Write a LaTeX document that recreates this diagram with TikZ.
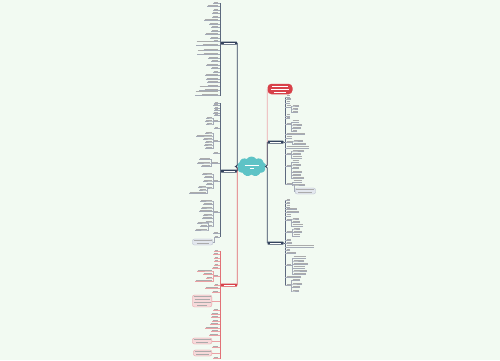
\documentclass[tikz,border=0pt]{standalone}
\usetikzlibrary{shapes.symbols}
\definecolor{bgc}{HTML}{F2FAF2}
\definecolor{navyc}{HTML}{34435E}
\definecolor{redc}{HTML}{D8414A}
\definecolor{txtc}{HTML}{ABABAB}
\definecolor{cloudc}{HTML}{5EC3C6}
\definecolor{gnotec}{HTML}{E3E7EE}
\definecolor{gnoteln}{HTML}{B5BDCB}
\definecolor{pnotec}{HTML}{F7D9DA}
\definecolor{pnoteln}{HTML}{E3979C}
\tikzset{
  lleaf/.style={inner sep=0.3pt, anchor=south east, align=right, text=txtc, font=\fontsize{2.4}{2.9}\selectfont},
  rleaf/.style={lleaf, anchor=south west, align=left},
  hub/.style={fill=navyc, rounded corners=0.5pt, minimum width=16pt, minimum height=3pt, inner sep=0pt, text=white, font=\fontsize{2}{2}\selectfont},
  redhub/.style={hub, fill=redc},
  ttlbox/.style={fill=redc, rounded corners=4pt, minimum width=25pt, minimum height=10.5pt, inner sep=0.8pt, align=center, text=white, font=\fontsize{2.4}{2.9}\selectfont},
  gnote/.style={fill=gnotec, draw=gnoteln, line width=0.3pt, rounded corners=2pt, inner sep=1.2pt, align=center, text=txtc, font=\fontsize{2.4}{2.9}\selectfont},
  pnote/.style={gnote, fill=pnotec, draw=pnoteln},
  navyln/.style={draw=navyc!45, line width=0.25pt},
  navybr/.style={draw=navyc!80, line width=0.35pt},
  redln/.style={draw=redc!50, line width=0.25pt},
  redbr/.style={draw=redc!75, line width=0.35pt},
  navytrunk/.style={draw=navyc, line width=0.8pt, rounded corners=1.5pt},
  redtrunk/.style={draw=redc!80, line width=0.8pt, rounded corners=1.5pt},
}
% text stand-in: width, number of lines
\newcommand{\tbar}[2]{\ifnum#2>1 \rule{#1pt}{0.8pt}\\\rule{0.7\dimexpr#1pt\relax}{0.8pt}\else\rule{#1pt}{0.8pt}\fi}
% prefix, list, bracket x, line style
\newcommand{\leftgroup}[4]{%
  \foreach \yy/\ww/\nn/\xx/\pp [count=\i] in #2
    {\node[lleaf] (#1\i) at (\xx,\yy) {\tbar{\ww}{\nn}};}
  \foreach \yy/\ww/\nn/\xx/\pp [count=\i] in #2
    {\ifnum\pp=0 \draw[#4] (#1\i.south west) -- (#3,\yy);
     \else \draw[#4] (#1\i.south west) -- (#1\i.south east) -- ++(0.8,0) |- (#1\pp.south west);\fi}}
\newcommand{\rightgroup}[4]{%
  \foreach \yy/\ww/\nn/\xx/\pp [count=\i] in #2
    {\node[rleaf] (#1\i) at (\xx,\yy) {\tbar{\ww}{\nn}};}
  \foreach \yy/\ww/\nn/\xx/\pp [count=\i] in #2
    {\ifnum\pp=0 \draw[#4] (#1\i.south east) -- (#3,\yy);
     \else \draw[#4] (#1\i.south east) -- (#1\i.south west) -- ++(-0.8,0) |- (#1\pp.south east);\fi}}
\def\Alist{3/4/1/218/0, 6.5/10/1/218/0, 10/4/1/218/0, 13.5/5/1/218/0, 17/5/1/218/0,
  20.5/13/1/218/0, 24/8/1/218/0, 27.5/6/1/218/0, 31/6/1/218/0, 34.5/12/1/218/0,
  38/7/1/218/0, 41.5/4/1/218/0, 45.5/21/2/218/0, 50/14/1/218/0, 54/20/2/218/0,
  58/9/1/218/0, 61.5/6/1/218/0, 65/11/1/218/0, 68.5/6/1/218/0, 72/4/1/218/0,
  75.5/12/1/218/0, 79/11/1/218/0, 82.5/10/1/218/0, 86/10/1/218/0, 90/18/2/218/0,
  95.5/22/2/218/0}
\def\Blist{103/3/1/218/0, 105.5/4/1/218/0, 108/3/1/218/0, 110.5/3/1/218/0, 113/4/1/218/0,
  115.5/3/1/218/0, 121/4/1/218/0, 118/5/1/212/7, 121/6/1/212/7, 124/5/1/212/7,
  128/3/1/218/0, 141/4/1/218/0, 133/6/1/212/12, 136/15/1/212/12, 139/8/1/212/12,
  142/6/1/212/12, 145/7/1/212/12, 148.5/6/1/212/12, 153/4/1/218/0, 163/6/1/218/0,
  159.5/10/1/210/20, 163/12/1/210/20, 166.5/8/1/210/20, 181/4/1/218/0, 174/9/1/212/24,
  177.5/7/1/212/24, 181/8/1/212/24, 184.5/5/1/212/24, 188/4/1/212/24, 187/7/1/206/29,
  190/6/1/206/29, 193.5/16/1/206/29, 212/4/1/218/0, 201/11/1/212/33, 204.5/8/1/212/33,
  208/10/1/212/33, 211.5/12/1/212/33, 215/8/1/212/33, 218.5/9/1/212/33, 222/6/1/212/33,
  226/4/1/212/33, 223/9/1/207/41, 226.5/6/1/207/41, 230/11/1/207/41, 233.5/4/1/218/0,
  237/3/1/218/0}
\def\Clist{251/3/1/218/0, 254.5/4/1/218/0, 258/3/1/218/0, 261.5/3/1/218/0, 265/3/1/218/0,
  268.5/5/1/218/0, 276/4/1/218/0, 271/14/1/212/7, 274.5/8/1/212/7, 278/5/1/212/7,
  281.5/16/1/212/7, 285/3/1/218/0, 288.5/12/1/218/0, 292/5/1/218/0, 310.5/4/1/218/0,
  314/6/1/218/0, 317.5/6/1/218/0, 321/5/1/218/0, 324.5/7/1/218/0, 328/12/1/218/0,
  331.5/6/1/218/0, 335/8/1/218/0, 347.5/5/1/218/0, 358.5/4/1/218/0}
\def\Dlist{96.7/3/1/286/0, 99.3/4/1/286/0, 102.7/3/1/286/0, 106.7/4/1/286/0, 106/6/1/292/4,
  109/5/1/292/4, 112.3/5/1/292/4, 115.7/3/1/286/0, 118.3/3/1/286/0, 124.3/4/1/286/0,
  121.7/6/1/292/10, 125/9/1/292/10, 128.3/8/1/292/10, 131.3/4/1/292/10, 134.5/18/1/286/0,
  137.7/5/1/286/0, 142.5/5/1/286/0, 141/9/1/293/17, 144.3/12/1/293/17, 147.7/22/1/286/0,
  154.3/4/1/286/0, 151/11/1/292/21, 154.3/8/1/292/21, 157.7/9/1/292/21, 166/4/1/286/0,
  161.7/6/1/292/25, 165/8/1/292/25, 168.3/6/1/292/25, 172.3/9/1/292/25, 175.3/8/1/292/25,
  178.3/11/1/292/25, 184/5/1/286/0, 181.7/8/1/293/32, 185/11/1/293/32}
\def\Elist{200/3/1/286/0, 203.3/3/1/286/0, 206.7/3/1/286/0, 209.3/10/1/286/0, 212.3/12/1/286/0,
  215.7/4/1/286/0, 220/4/1/286/0, 219/6/1/292/7, 222.3/7/1/292/7, 225.7/10/1/292/7,
  232/5/1/286/0, 229/6/1/293/11, 232.3/8/1/293/11, 235.7/6/1/293/11, 240/4/1/286/0,
  243.3/5/1/286/0, 246.7/27/1/286/0, 250/3/1/286/0, 253.3/9/1/286/0, 265/4/1/286/0,
  257.7/12/1/293/20, 261/10/1/293/20, 264.3/14/1/293/20, 267.7/11/1/293/20, 271/13/1/293/20,
  274.3/12/1/293/20, 277.5/14/1/286/0, 285/4/1/286/0, 280.5/7/1/292/28, 284/9/1/292/28,
  287.5/7/1/292/28, 291/6/1/292/28}
\begin{document}
\begin{tikzpicture}[x=1pt, y=-1pt]
  \fill[bgc] (0,0) rectangle (500,360);
  \useasboundingbox (0,0) rectangle (500,360);
  % centre
  \node[cloud, cloud puffs=9, cloud puff arc=110, aspect=1.4, fill=cloudc, minimum width=29pt,
    minimum height=20pt, inner sep=0pt, align=center, text=white,
    font=\fontsize{2.4}{2.9}\selectfont] (ctr) at (251.5,166.5) {\rule{14pt}{0.8pt}\\\rule{4pt}{0.8pt}};
  % hubs
  \node[hub] (hA) at (229,43) {\rule{11pt}{0.6pt}};
  \node[hub] (hB) at (229,171) {\rule{11pt}{0.6pt}};
  \node[redhub] (hC) at (229,285) {\rule{11pt}{0.6pt}};
  \node[ttlbox] (ttl) at (280,89) {\rule{16pt}{0.7pt}\\\rule{18pt}{0.7pt}\\\rule{12pt}{0.7pt}};
  \node[hub] (hD) at (275.5,142) {\rule{11pt}{0.6pt}};
  \node[hub] (hE) at (275.5,243) {\rule{11pt}{0.6pt}};
  \draw[redtrunk] (ctr.west) -| (hC.east);
  \draw[navytrunk] (ctr.west) -| (hA.east);
  \draw[navytrunk] (ctr.west) -| (hB.east);
  \draw[redtrunk, draw=redc!45] (ctr.east) -| (ttl.west);
  \draw[navytrunk] (ctr.east) -| (hD.west);
  \draw[navytrunk] (ctr.east) -| (hE.west);
  % brackets
  \draw[navybr] (hA.west) -- (220,43);
  \draw[navybr] (220,3) -- (220,95.5);
  \draw[navybr] (hB.west) -- (220,171);
  \draw[navybr] (220,103) -- (220,237);
  \draw[redbr] (hC.west) -- (220,285);
  \draw[redbr] (220,251) -- (220,358.5);
  \draw[navybr] (hD.east) -- (285,142);
  \draw[navybr] (285,96.7) -- (285,184);
  \draw[navybr] (hE.east) -- (285,243);
  \draw[navybr] (285,200) -- (285,285);
  % leaves
  \leftgroup{A}{\Alist}{220}{navyln}
  \leftgroup{B}{\Blist}{220}{navyln}
  \leftgroup{C}{\Clist}{220}{redln}
  \rightgroup{D}{\Dlist}{285}{navyln}
  \rightgroup{E}{\Elist}{285}{navyln}
  % notes
  \node[gnote, anchor=east] (Bn) at (213,242) {\rule{18pt}{0.8pt}\\\rule{12pt}{0.8pt}};
  \draw[navyln] (Bn.east) -- ++(0.8,0) |- (B46.south west);
  \node[gnote, anchor=west] (Dn) at (295,191) {\rule{18pt}{0.8pt}\\\rule{14pt}{0.8pt}};
  \draw[navyln] (Dn.west) -- ++(-0.8,0) |- (D32.south east);
  \node[pnote, anchor=east] (Cn1) at (212,301) {\rule{17pt}{0.8pt}\\\rule{15pt}{0.8pt}\\\rule{17pt}{0.8pt}\\\rule{10pt}{0.8pt}};
  \draw[redln] (Cn1.east) -- (220,301);
  \node[pnote, anchor=east] (Cn2) at (212,341) {\rule{17pt}{0.8pt}\\\rule{12pt}{0.8pt}};
  \draw[redln] (Cn2.east) -- (220,341);
  \node[pnote, anchor=east] (Cn3) at (212,353) {\rule{16pt}{0.8pt}\\\rule{13pt}{0.8pt}};
  \draw[redln] (Cn3.east) -- (220,353);
\end{tikzpicture}
\end{document}
